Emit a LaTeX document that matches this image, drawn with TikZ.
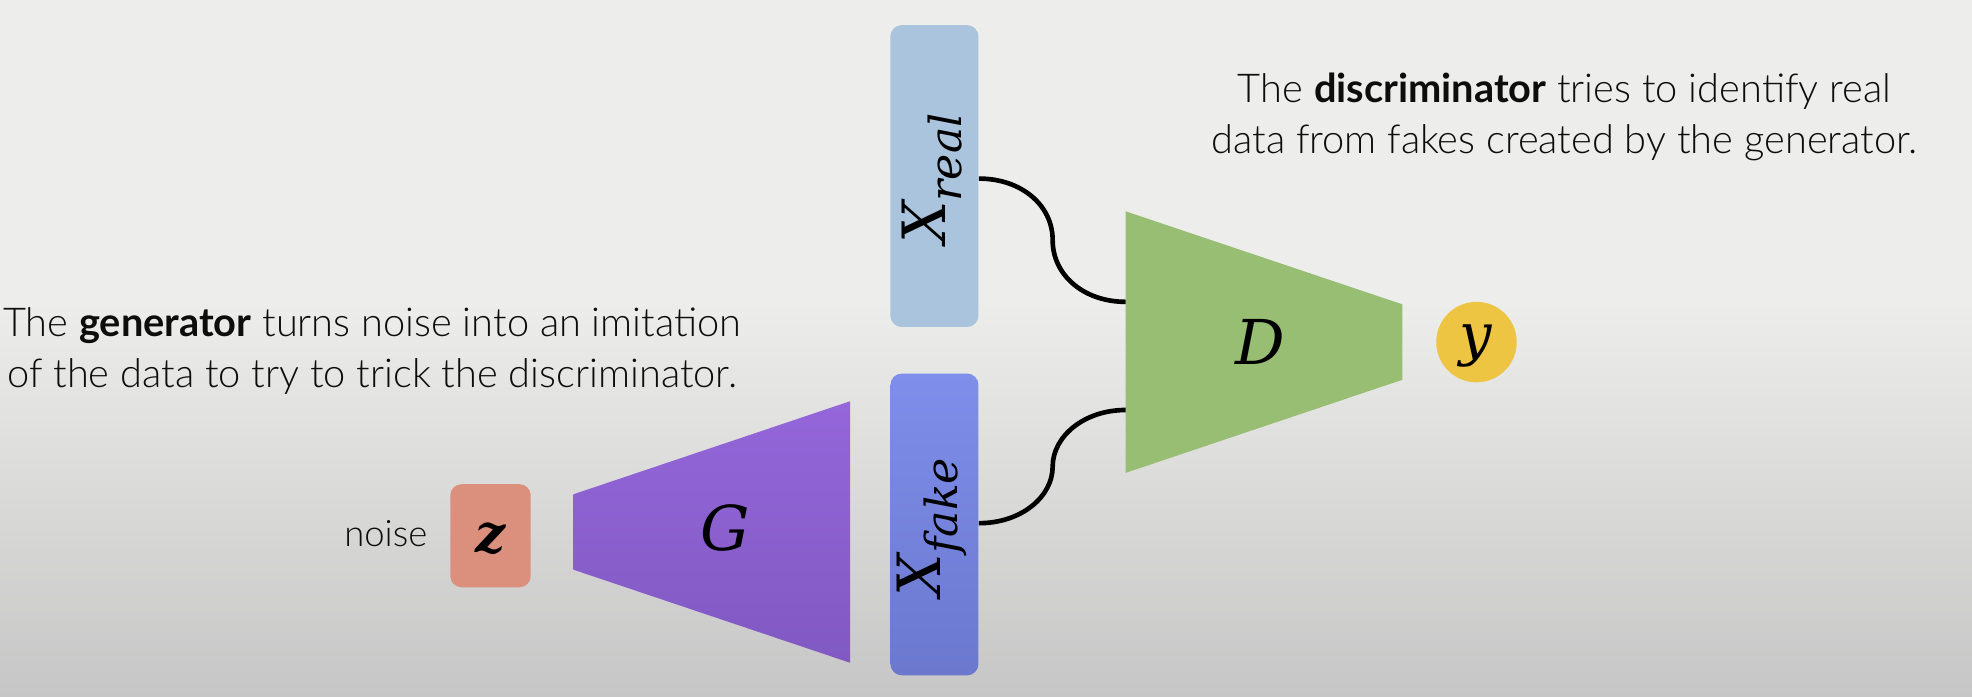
\documentclass[tikz,border=0pt]{standalone}
\usepackage{fontspec}
\setmainfont{Lato}[UprightFont=* Light, BoldFont=* Bold]
\newfontfamily\mserif{DejaVu Serif}
\usetikzlibrary{calc}
\definecolor{bgtop}{HTML}{EDEDEB}
\definecolor{bgbot}{HTML}{C6C6C6}
\definecolor{realc}{HTML}{A9C4DC}
\definecolor{faketop}{HTML}{7E8EEA}
\definecolor{fakebot}{HTML}{6B78CE}
\definecolor{discc}{HTML}{97BE73}
\definecolor{gentop}{HTML}{9466DA}
\definecolor{genbot}{HTML}{8159C2}
\definecolor{zc}{HTML}{DB8F7D}
\definecolor{yc}{HTML}{EEC443}
\newcommand{\msub}[2]{#1\raisebox{-0.28em}{\fontsize{20}{20}\selectfont #2}}
\begin{document}
\begin{tikzpicture}[x=0.02cm,y=-0.02cm,
  databox/.style={rounded corners=0.18cm,minimum width=1.4cm,minimum height=4.8cm,inner sep=0pt},
  mathlbl/.style={font=\mserif\itshape\fontsize{28}{30}\selectfont,inner sep=0pt},
  caption/.style={font=\fontsize{18}{23}\selectfont,align=center,text=black!95},
  wire/.style={line width=2.1pt,black}]
\fill[bgtop] (0,0) rectangle (1568,240);
\shade[top color=bgtop,bottom color=bgbot] (0,239) rectangle (1568,554);
\useasboundingbox (0,0) rectangle (1568,554);
% data boxes
\node[databox,fill=realc] (xreal) at (743,140) {};
\node[mathlbl,rotate=90,font=\mserif\itshape\fontsize{27}{30}\selectfont] (xrealt) at (741,142) {\msub{X}{real}};
\node[databox,top color=faketop,bottom color=fakebot] (xfake) at (743,417) {};
\node[mathlbl,rotate=90,font=\mserif\itshape\fontsize{27}{30}\selectfont] (xfaket) at (741,419) {\msub{X}{fake}};
% discriminator
\fill[discc] (895,168) -- (1115,242) -- (1115,302) -- (895,376) -- cycle;
\node[mathlbl] (D) at (1002,272) {D};
\coordinate (din1) at (895,240);
\coordinate (din2) at (895,326);
% generator
\shade[top color=gentop,bottom color=genbot] (456,393) -- (676,319) -- (676,527) -- (456,453) -- cycle;
\node[mathlbl] (G) at (577,420) {G};
% z
\node[fill=zc,rounded corners=0.18cm,minimum width=1.28cm,minimum height=1.64cm,inner sep=0pt] (z) at (390,426) {};
\node[mathlbl,font=\mserif\bfseries\itshape\fontsize{24}{30}\selectfont] (zt) at (390,428) {z};
\node[font=\fontsize{16.5}{20}\selectfont,text=black!95,anchor=east] (noise) at (346,424) {noise};
% y
\node[circle,fill=yc,minimum size=1.28cm,inner sep=0pt] (y) at (1174,272) {};
\node[mathlbl,font=\mserif\itshape\fontsize{26}{30}\selectfont] (yt) at (1173,275) {y};
% captions
\node[caption] (gcap) at (296,279) {The \textbf{generator} turns noise into an imitation\\of the data to try to trick the discriminator.};
\node[caption] (dcap) at (1244,93) {The \textbf{discriminator} tries to identify real\\data from fakes created by the generator.};
% wires
\draw[wire] (xreal.east |- 0,142) .. controls (812,142) and (837,163) .. (837,191)
  .. controls (837,219) and (862,240) .. (din1);
\draw[wire] (xfake.east |- 0,416) .. controls (812,416) and (837,395) .. (837,371)
  .. controls (837,347) and (862,326) .. (din2);
\end{tikzpicture}
\end{document}
